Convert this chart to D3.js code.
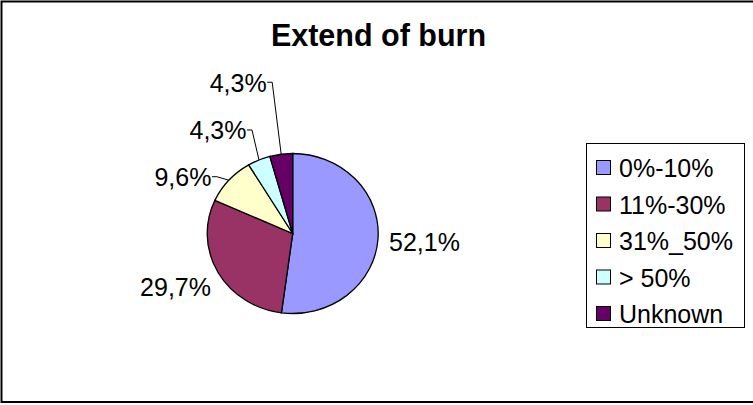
<!DOCTYPE html>
<html>
<head>
<meta charset="utf-8">
<script src="https://cdn.jsdelivr.net/npm/d3@7"></script>
<style>
  html, body { margin: 0; padding: 0; background: #fff; }
  svg { display: block; }
  text { font-family: "Liberation Sans", Arial, sans-serif; fill: #000; }
</style>
</head>
<body>
<svg id="chart" width="753" height="405"></svg>
<script>
const title = "Extend of burn";
const categories = ["0%-10%", "11%-30%", "31%_50%", "> 50%", "Unknown"];
const values = [52.1, 29.7, 9.6, 4.3, 4.3];
const valueLabels = ["52,1%", "29,7%", "9,6%", "4,3%", "4,3%"];
const colors = ["#9999FF", "#993366", "#FFFFCC", "#CCFFFF", "#660066"];

const svg = d3.select("#chart");
const W = 753, H = 405;

// outer chart border
svg.append("rect")
  .attr("x", 1.5).attr("y", 1.5)
  .attr("width", W + 10).attr("height", 400.5)
  .attr("fill", "#fff").attr("stroke", "#000").attr("stroke-width", 2);

// title
svg.append("text")
  .attr("x", 378.5).attr("y", 46)
  .attr("text-anchor", "middle")
  .style("font-weight", "bold").style("font-size", "30.5px")
  .text(title);

// pie
const cx = 292.7, cy = 233.5, r = 80, sx = 85.5 / 80;
const pie = d3.pie().sort(null).value(d => d)(values);
const arc = d3.arc().innerRadius(0).outerRadius(r);

const g = svg.append("g").attr("transform", `translate(${cx},${cy}) scale(${sx},1)`);
g.selectAll("path").data(pie).join("path")
  .attr("d", arc)
  .attr("fill", (d, i) => colors[i])
  .attr("stroke", "#000").attr("stroke-width", 1.3)
  .attr("vector-effect", "non-scaling-stroke");

// edge point of each slice (mid angle), in page coordinates
function edgePoint(d) {
  const a = (d.startAngle + d.endAngle) / 2;
  return [cx + Math.sin(a) * r * sx, cy - Math.cos(a) * r];
}

// label layout
const labelLayout = [
  { anchor: "start", leader: false, abs: [389, 251] },
  { anchor: "end", leader: false, abs: [211, 296] },
  { anchor: "end", leader: true, tick: [-12, -3.5] },
  { anchor: "end", leader: true, tick: [-7, -30] },
  { anchor: "end", leader: true, tick: [-9, -72] }
];

pie.forEach((d, i) => {
  const p = edgePoint(d);
  const L = labelLayout[i];
  let tx, ty;
  if (L.leader) {
    const ex = p[0] + L.tick[0], ey = p[1] + L.tick[1];
    svg.append("path")
      .attr("d", `M${p[0]},${p[1]} L${ex},${ey} L${ex - 5},${ey}`)
      .attr("fill", "none").attr("stroke", "#000").attr("stroke-width", 1);
    tx = ex - 5.5; ty = ey + 9.5;
  } else { tx = L.abs[0]; ty = L.abs[1]; }
  svg.append("text")
    .attr("x", tx).attr("y", ty)
    .attr("text-anchor", L.anchor)
    .style("font-size", "25px")
    .text(valueLabels[i]);
});

// legend
svg.append("rect")
  .attr("x", 586.5).attr("y", 143.5)
  .attr("width", 158).attr("height", 184)
  .attr("fill", "#fff").attr("stroke", "#000").attr("stroke-width", 1);

const ly = d3.scalePoint().domain(categories).range([168, 314]);
const leg = svg.selectAll("g.leg").data(categories).join("g")
  .attr("class", "leg")
  .attr("transform", d => `translate(0,${ly(d)})`);
leg.append("rect")
  .attr("x", 596.5).attr("y", -7.5).attr("width", 14).attr("height", 14)
  .attr("fill", (d, i) => colors[i]).attr("stroke", "#000").attr("stroke-width", 1);
leg.append("text")
  .attr("x", 619).attr("y", 9)
  .style("font-size", "25px")
  .text(d => d);
</script>
</body>
</html>
